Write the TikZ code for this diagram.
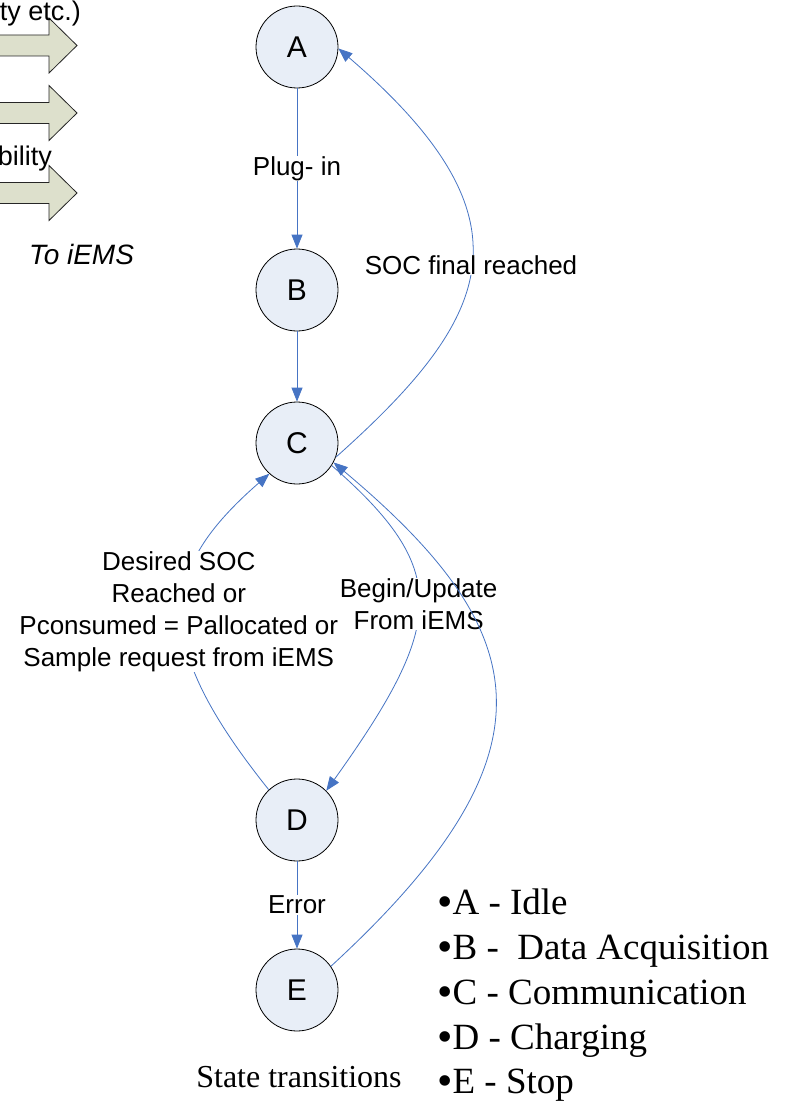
\documentclass[tikz,border=0pt]{standalone}
\usepackage{fontspec}
\setmainfont{Liberation Serif}
\newfontfamily\arialfont{Liberation Sans}
\usetikzlibrary{arrows.meta}
\definecolor{edgeblue}{RGB}{70,116,196}
\definecolor{statefill}{RGB}{232,238,247}
\definecolor{blockfill}{RGB}{221,224,204}
\newcommand{\bigbullet}{{\fontsize{44}{45}\selectfont\raisebox{-2.5pt}{•}}}
\begin{document}
\begin{tikzpicture}[x=1pt,y=-1pt,
 state/.style={circle,draw=black,line width=0.8pt,fill=statefill,minimum size=82pt,inner sep=0pt,font=\arialfont\fontsize{30}{30}\selectfont},
 trans/.style={draw=edgeblue,line width=0.8pt,-{Triangle[length=14pt,width=11pt]}},
 lbl/.style={fill=white,inner sep=0.5pt,align=center,font=\arialfont\fontsize{26}{32}\selectfont},
 side/.style={font=\arialfont\fontsize{27}{32}\selectfont,inner sep=0pt},
 legend/.style={anchor=base west,inner sep=0pt,font=\fontsize{37}{45}\selectfont},
 blockarrow/.style={draw=black!85,line width=0.8pt,fill=blockfill,line join=miter}
]
\useasboundingbox (0,0) rectangle (793,1105);
\fill[white] (0,0) rectangle (793,1105);

% block arrows (cut at the left edge)
\foreach \c in {45.5,113,193}{
  \draw[blockarrow] (-5,{\c-10.5}) -- (49,{\c-10.5}) -- (49,{\c-27.5}) -- (77,\c) -- (49,{\c+27.5}) -- (49,{\c+10.5}) -- (-5,{\c+10.5}) -- cycle;
}
\node[side,anchor=base east] (t1) at (81,21) {ty etc.)};
\node[side,anchor=base east] (t2) at (52,165) {bility};
\node[side,anchor=base west,font=\arialfont\itshape\fontsize{28}{32}\selectfont] (t3) at (29,264) {To iEMS};

% states
\node[state] (A) at (297,47) {A};
\node[state] (B) at (297,290) {B};
\node[state] (C) at (297,443) {C};
\node[state] (D) at (297,820) {D};
\node[state] (E) at (297,990) {E};

% transitions
\draw[trans] (A) -- node[lbl]{Plug- in} (B);
\draw[trans] (B) -- (C);
\draw[trans] (C.-20) .. controls +(157,-140) and +(200,172) .. node[lbl,pos=0.5]{SOC final reached} (A.-2);
\draw[trans] (C.-33) .. controls +(119,104) and +(120,-168) .. node[lbl,pos=0.5]{Begin/Update\\From iEMS} (D.45);
\draw[trans] (D.133) .. controls +(-120,-150) and +(-110,96) .. node[lbl,pos=0.5,inner sep=0pt,xshift=-4pt]{Desired SOC\\Reached or\\Pconsumed = Pallocated or\\Sample request from iEMS} (C.228);
\draw[trans] (E.35) .. controls +(235,-216) and +(199,167) .. (C.-28);
\draw[trans] (D) -- node[lbl]{Error} (E);

% caption and legend
\node[anchor=base,inner sep=0pt,font=\fontsize{32}{36}\selectfont] (cap) at (299,1087) {State transitions};
\node[legend] (L1) at (437,914) {\bigbullet A - Idle};
\node[legend] (L2) at (437,959) {\bigbullet B -\ \ Data Acquisition};
\node[legend] (L3) at (437,1004) {\bigbullet C - Communication};
\node[legend] (L4) at (437,1049) {\bigbullet D - Charging};
\node[legend] (L5) at (437,1093) {\bigbullet E - Stop};
\end{tikzpicture}
\end{document}
